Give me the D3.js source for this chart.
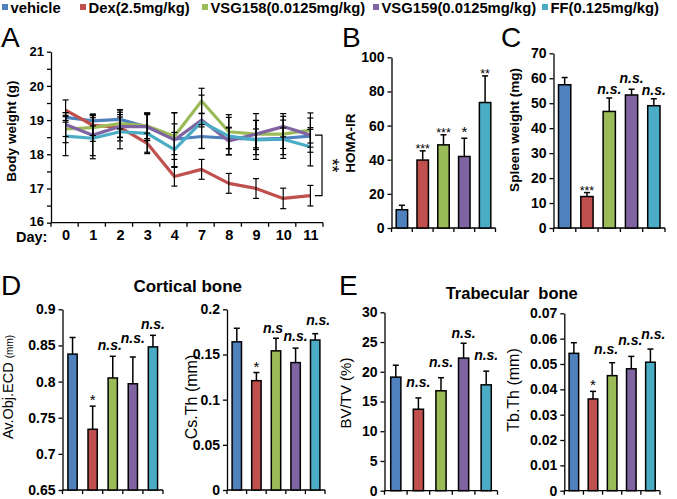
<!DOCTYPE html>
<html><head><meta charset="utf-8">
<script src="https://cdn.jsdelivr.net/npm/d3@7"></script>
<style>
html,body{margin:0;padding:0;background:#fff;}
svg{display:block;font-family:"Liberation Sans",Arial,sans-serif;}
</style></head>
<body>
<svg id="chart" width="677" height="499"></svg>
<script>
// ---------------- DATA ----------------
const groups = ["vehicle","Dex(2.5mg/kg)","VSG158(0.0125mg/kg)","VSG159(0.0125mg/kg)","FF(0.125mg/kg)"];
const colors = ["#4F81BD","#C0504D","#9BBB59","#8064A2","#4BACC6"];

// Panel A: body weight
const days = ["0","1","2","3","4","7","8","9","10","11"];
const bwVehicle = [19.08,18.98,19.02,18.80,18.44,18.52,18.47,18.44,18.47,18.53];
const bwDex     = [19.29,18.85,18.79,18.32,17.35,17.56,17.15,17.00,16.71,16.79];
const bwVSG158  = [18.74,18.78,18.90,18.83,18.53,19.56,18.66,18.59,18.59,18.71];
const bwVSG159  = [18.87,18.56,18.81,18.81,18.42,19.00,18.39,18.59,18.81,18.56];
const bwFF      = [18.53,18.47,18.66,18.61,18.14,18.95,18.53,18.42,18.44,18.22];
const bwErrVehicle = [0.14,0.15,0.28,0.40,0.45,0.35,0.30,0.30,0.30,0.20];
const bwErrDex     = [0.30,0.30,0.30,0.30,0.28,0.29,0.29,0.29,0.30,0.30];
const bwErrVSG158  = [0.40,0.40,0.40,0.37,0.68,0.37,0.50,0.60,0.60,0.50];
const bwErrVSG159  = [0.35,0.60,0.42,0.40,0.80,0.20,0.40,0.40,0.30,0.50];
const bwErrFF      = [0.57,0.60,0.50,0.55,0.50,0.78,0.55,0.57,0.56,0.56];
const bwTicks = [16,17,18,19,20,21];

// Panel B: HOMA-IR
const homaMean = [10.7,39.8,48.7,41.9,73.5];
const homaErr  = [2.6,5.4,5.9,10.7,15.6];
const homaSig  = ["","***","***","*","**"];
const homaTicks = [0,20,40,60,80,100];

// Panel C: spleen weight
const spleenMean = [57.4,12.6,46.7,53.3,49.0];
const spleenErr  = [2.9,1.6,5.4,2.3,2.8];
const spleenSig  = ["","***","n.s.","n.s.","n.s."];
const spleenTicks = [0,10,20,30,40,50,60,70];

// Panel D: cortical bone
const ecdMean = [0.838,0.734,0.805,0.797,0.848];
const ecdErr  = [0.023,0.032,0.030,0.037,0.016];
const ecdSig  = ["","*","n.s.","n.s.","n.s."];
const ecdTicks = [0.65,0.7,0.75,0.8,0.85,0.9];

const csthMean = [0.164,0.121,0.154,0.141,0.166];
const csthErr  = [0.015,0.009,0.014,0.016,0.007];
const csthSig  = ["","*","n.s","n.s.","n.s."];
const csthTicks = [0,0.05,0.1,0.15,0.2];

// Panel E: trabecular bone
const bvtvMean = [19.1,13.7,16.8,22.3,17.8];
const bvtvErr  = [2.0,1.9,2.2,2.5,2.3];
const bvtvSig  = ["","n.s.","n.s.","n.s.","n.s."];
const bvtvTicks = [0,5,10,15,20,25,30];

const tbthMean = [0.0542,0.0362,0.0454,0.0481,0.0507];
const tbthErr  = [0.0042,0.0030,0.0051,0.0049,0.0052];
const tbthSig  = ["","*","n.s.","n.s.","n.s."];
const tbthTicks = [0,0.01,0.02,0.03,0.04,0.05,0.06,0.07];

// ---------------- DRAW ----------------
const svg = d3.select("#chart");
const FONT = '"Liberation Sans",Arial,sans-serif';
const fmt = d => String(+(+d).toFixed(3));

// Legend
const legendX = [2,80,202,373,542];
const leg = svg.append("g");
groups.forEach((g,i)=>{
  leg.append("rect").attr("x",legendX[i]).attr("y",4).attr("width",6).attr("height",6).attr("fill",colors[i]);
  leg.append("text").attr("x",legendX[i]+8.5).attr("y",13).attr("font-size",14.8).attr("font-weight","bold").text(g);
});

function letter(t,x,y){
  svg.append("text").attr("x",x).attr("y",y).attr("font-size",28).text(t);
}
function yTitle(parts,x,y,size,weight){
  const t = svg.append("text").attr("transform",`translate(${x},${y}) rotate(-90)`)
    .attr("text-anchor","middle").attr("font-weight",weight||"normal");
  parts.forEach(p=>t.append("tspan").attr("font-size",p[1]).text(p[0]));
}
function styleAxis(g){
  g.selectAll("path,line").attr("stroke","#000").attr("stroke-width",1.3);
  g.selectAll("text").attr("font-family",FONT).attr("fill","#000");
}

// ---- Panel A ----
(function(){
  const series = [bwVehicle,bwDex,bwVSG158,bwVSG159,bwFF];
  const errs = [bwErrVehicle,bwErrDex,bwErrVSG158,bwErrVSG159,bwErrFF];
  const x = d3.scaleBand().domain(days).range([51,323]);
  const y = d3.scaleLinear().domain([16,21]).range([222.7,51.7]);
  const g = svg.append("g");
  const ya = g.append("g").attr("transform","translate(51,0)")
    .call(d3.axisLeft(y).tickValues(d3.range(16,21.01,0.5)).tickSize(4).tickSizeOuter(0)
      .tickFormat(d=> bwTicks.includes(d)? String(d):""));
  ya.selectAll("text").attr("font-size",13).attr("font-weight","bold");
  ya.selectAll(".tick").filter(d=>d===16).select("text").attr("y",-1.8);
  styleAxis(ya);
  const xa = g.append("g").attr("transform","translate(0,222.7)")
    .call(d3.axisBottom(x).tickSize(0).tickSizeOuter(0).tickPadding(7));
  xa.selectAll("text").attr("font-size",14.5).attr("font-weight","bold").attr("dx",1.5);
  styleAxis(xa);
  xa.select(".domain").attr("d","M51,0H323");
  const bounds = days.map(d=>x(d)).concat([x.range()[1]]);
  xa.selectAll(".bnd").data(bounds).join("line").attr("x1",d=>d).attr("x2",d=>d)
    .attr("y1",0).attr("y2",4).attr("stroke","#000").attr("stroke-width",1.3);
  g.append("text").attr("x",16).attr("y",241.5).attr("font-size",14.5).attr("font-weight","bold").text("Day:");
  const cx = d=>x(d)+x.bandwidth()/2+1;
  const line = d3.line().x((v,i)=>cx(days[i])).y(v=>y(v));
  series.forEach((s,k)=>{
    g.append("path").attr("d",line(s)).attr("fill","none").attr("stroke",colors[k])
      .attr("stroke-width",3.2).attr("stroke-linejoin","round");
  });
  series.forEach((s,k)=>{
    s.forEach((v,i)=>{
      const xx=cx(days[i]), y1=y(v+errs[k][i]), y2=y(v-errs[k][i]);
      g.append("line").attr("x1",xx).attr("x2",xx).attr("y1",y1).attr("y2",y2).attr("stroke","#000").attr("stroke-width",1.2);
      [y1,y2].forEach(yy=>g.append("line").attr("x1",xx-3).attr("x2",xx+3).attr("y1",yy).attr("y2",yy).attr("stroke","#000").attr("stroke-width",1.2));
    });
  });
  // significance bracket at day 11
  const last = days.length-1;
  const yt = y(bwVSG159[last]), yb = y(bwDex[last]);
  const bx = 322;
  g.append("path").attr("d",`M${bx-7},${yt}H${bx}V${yb}H${bx-7}`).attr("fill","none").attr("stroke","#000").attr("stroke-width",1.2);
  g.append("text").attr("transform",`translate(${bx+4},${(yt+yb)/2}) rotate(90)`).attr("text-anchor","middle")
    .attr("font-size",18).text("**");
  yTitle([["Body weight (g)",13.5]],16,131,13.5,"bold");
  letter("A",1,47);
})();

// ---- Bar panel generic ----
function barPanel(cfg){
  const g = svg.append("g");
  const x = d3.scaleBand().domain(groups).range([cfg.x0,cfg.x1]).paddingInner(cfg.pad).paddingOuter(cfg.pad/2);
  const xb = d3.scaleBand().domain(groups).range([cfg.x0,cfg.x1]);
  const y = d3.scaleLinear().domain(cfg.domain).range([cfg.yb,cfg.yt]);
  const ya = g.append("g").attr("transform",`translate(${cfg.x0},0)`)
    .call(d3.axisLeft(y).tickValues(cfg.ticks).tickSize(4).tickSizeOuter(0).tickPadding(3).tickFormat(fmt));
  ya.selectAll("text").attr("font-size",14).attr("font-weight","bold");
  styleAxis(ya);
  const xa = g.append("g").attr("transform",`translate(0,${cfg.yb})`)
    .call(d3.axisBottom(xb).tickSize(0).tickSizeOuter(0).tickFormat(""));
  styleAxis(xa);
  xa.select(".domain").attr("d",`M${cfg.x0},0H${cfg.x1}`);
  const bounds = groups.map(d=>xb(d)).concat([cfg.x1]);
  xa.selectAll(".bnd").data(bounds).join("line").attr("x1",d=>d).attr("x2",d=>d)
    .attr("y1",0).attr("y2",4).attr("stroke","#000").attr("stroke-width",1.3);
  const base = cfg.domain[0];
  groups.forEach((gr,i)=>{
    const bx = x(gr), bw = x.bandwidth(), cxx = bx+bw/2;
    const top = y(cfg.mean[i]+cfg.err[i]);
    g.append("line").attr("x1",cxx).attr("x2",cxx).attr("y1",y(cfg.mean[i])).attr("y2",top).attr("stroke","#000").attr("stroke-width",1.5);
    g.append("line").attr("x1",cxx-3).attr("x2",cxx+3).attr("y1",top).attr("y2",top).attr("stroke","#000").attr("stroke-width",1.5);
    g.append("rect").attr("x",bx).attr("width",bw).attr("y",y(cfg.mean[i])).attr("height",y(base)-y(cfg.mean[i]))
      .attr("fill",colors[i]).attr("stroke","#000").attr("stroke-width",1.5);
    const s = cfg.sig[i];
    if(s){
      if(s.startsWith("n.s")){
        g.append("text").attr("x",cxx+(cfg.nsDx?cfg.nsDx[i]:0)).attr("y",top-(cfg.nsOff?cfg.nsOff[i]:5)).attr("text-anchor","middle")
          .attr("font-size",14).attr("font-weight","bold").attr("font-style","italic").text(s);
      } else {
        g.append("text").attr("x",cxx).attr("y",top+(s.length>1?2:-1)).attr("text-anchor","middle")
          .attr("font-size",s.length>1?12.5:15).text(s);
      }
    }
  });
  yTitle(cfg.title,cfg.tx,cfg.ty,14,cfg.tw);
}

// B
barPanel({x0:391.5,x1:495.5,yb:228,yt:57.3,domain:[0,100],ticks:homaTicks,pad:0.45,
  mean:homaMean,err:homaErr,sig:homaSig,title:[["HOMA-IR",13.5]],tx:355,ty:143,tw:"bold"});
letter("B",342,47);
// C
barPanel({x0:553.5,x1:665,yb:228,yt:53.3,domain:[0,70],ticks:spleenTicks,pad:0.45,
  mean:spleenMean,err:spleenErr,sig:spleenSig,title:[["Spleen weight (mg)",13.5]],tx:519,ty:130,tw:"bold",
  nsOff:[0,0,4,6,4]});
letter("C",501,47);

// D
svg.append("text").attr("x",187.7).attr("y",292).attr("text-anchor","middle").attr("font-size",17).attr("font-weight","bold").text("Cortical bone");
barPanel({x0:62.5,x1:163,yb:490,yt:309.3,domain:[0.65,0.9],ticks:ecdTicks,pad:0.54,
  mean:ecdMean,err:ecdErr,sig:ecdSig,title:[["Av.Obj.ECD ",14.5],["(mm)",10]],tx:13,ty:387,tw:"normal",
  nsOff:[0,0,6,14,6],nsDx:[0,0,-3,0,0]});
barPanel({x0:227,x1:325,yb:490,yt:309.3,domain:[0,0.2],ticks:csthTicks,pad:0.52,
  mean:csthMean,err:csthErr,sig:csthSig,title:[["Cs.Th (mm)",16]],tx:197,ty:397,tw:"normal",
  nsOff:[0,0,5,7,9],nsDx:[0,0,-3,0,3]});
letter("D",1,295);

// E
svg.append("text").attr("x",511.7).attr("y",298.5).attr("text-anchor","middle").attr("font-size",16.5).attr("font-weight","bold")
  .attr("xml:space","preserve").style("white-space","pre").text("Trabecular  bone");
barPanel({x0:384.5,x1:497.5,yb:490.7,yt:312.3,domain:[0,30],ticks:bvtvTicks,pad:0.55,
  mean:bvtvMean,err:bvtvErr,sig:bvtvSig,title:[["BV/TV (%)",15]],tx:351,ty:393,tw:"normal",
  nsOff:[0,11,11,5,11]});
barPanel({x0:564.3,x1:660,yb:490.7,yt:313.3,domain:[0,0.07],ticks:tbthTicks,pad:0.5,
  mean:tbthMean,err:tbthErr,sig:tbthSig,title:[["Tb.Th (mm)",16]],tx:519,ty:390,tw:"normal",
  nsOff:[0,0,9,11,10],nsDx:[0,0,-6,-1,3]});
letter("E",339,295);
</script>
</body></html>
